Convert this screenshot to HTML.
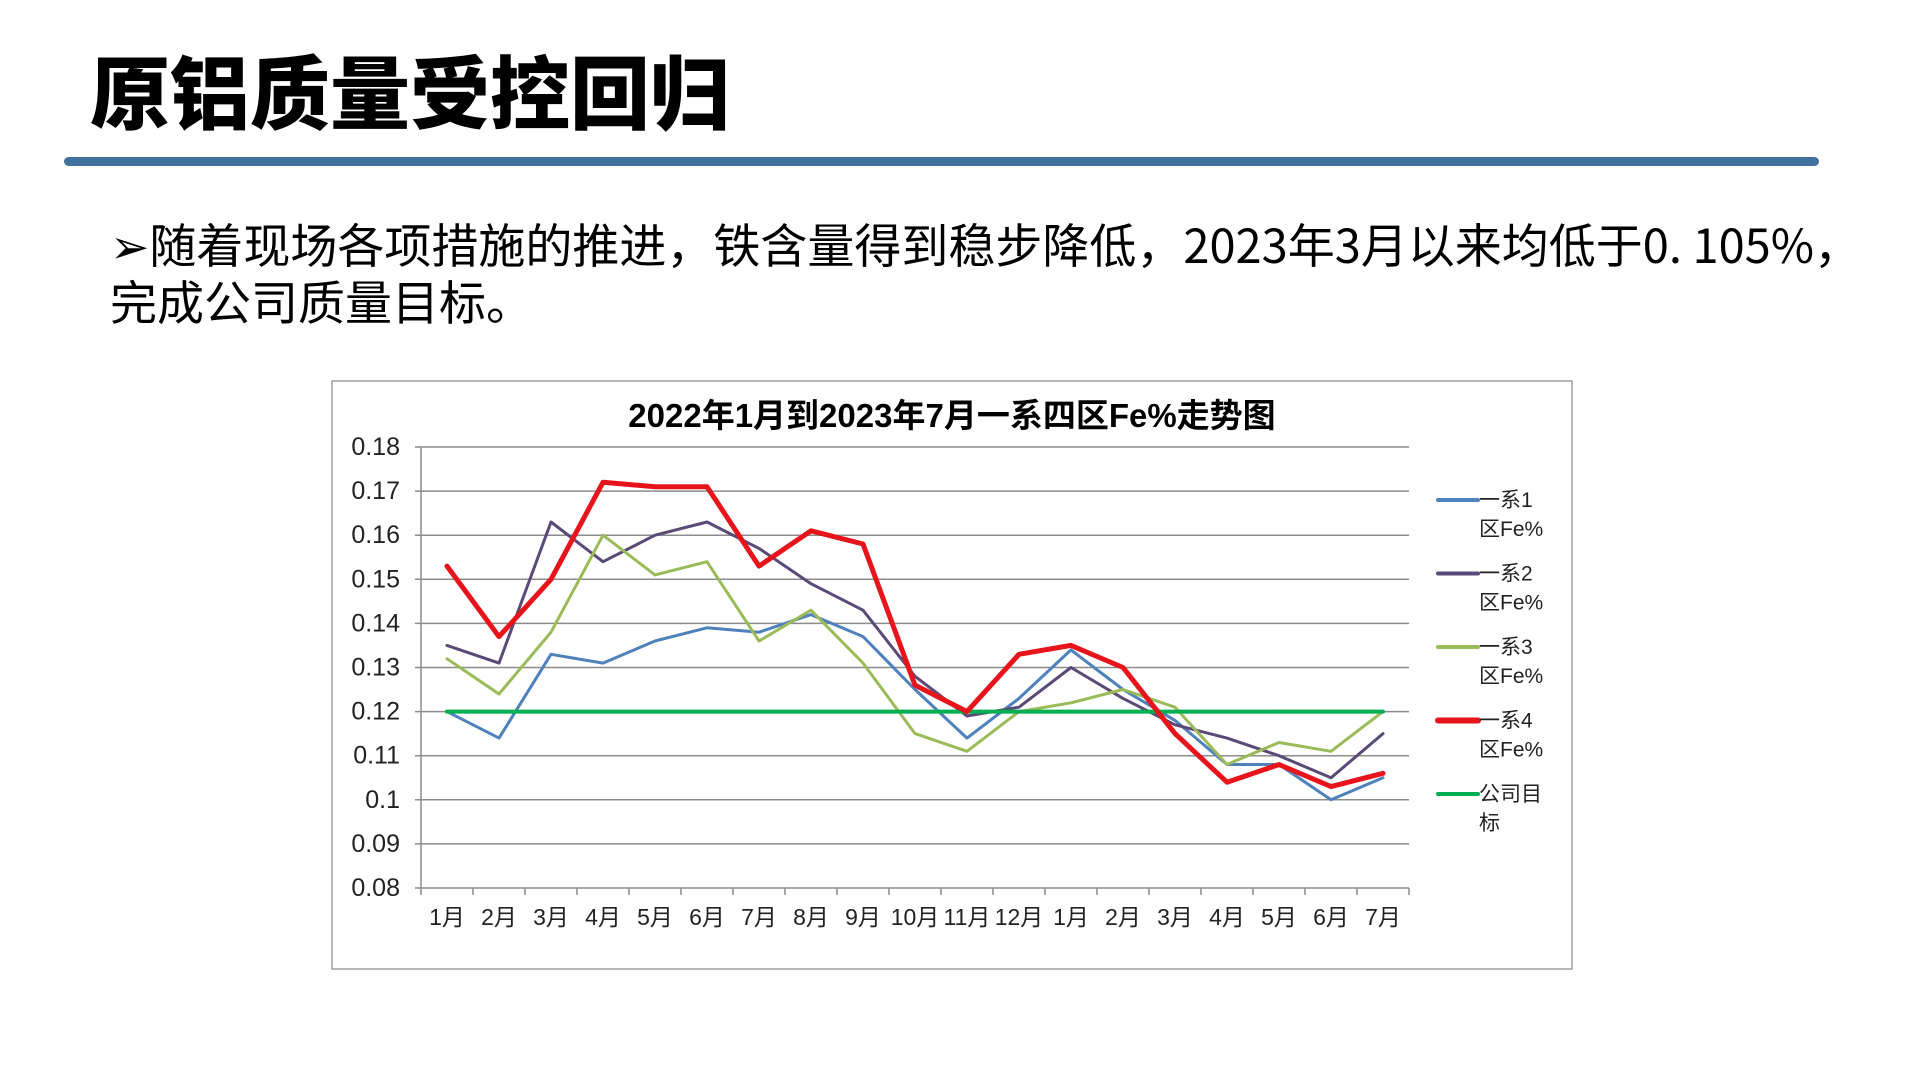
<!DOCTYPE html>
<html><head><meta charset="utf-8">
<style>
html,body{margin:0;padding:0;background:#fff;}
body{width:1920px;height:1079px;position:relative;overflow:hidden;font-family:"Liberation Sans","Noto Sans CJK SC",sans-serif;}
#title{position:absolute;left:90px;top:48px;font-size:80px;font-weight:900;color:#000;letter-spacing:0px;line-height:96px;white-space:nowrap;}
#bar{position:absolute;left:64px;top:157px;width:1755px;height:9px;background:#41719c;border-radius:5px;}
#body{position:absolute;left:110px;top:214px;font-size:47px;line-height:57px;color:#000;white-space:nowrap;font-family:"Noto Sans CJK SC",sans-serif;}
#chart{position:absolute;left:0;top:0;}
</style></head>
<body>
<div id="title">原铝质量受控回归</div>
<div id="bar"></div>
<div id="body">➢随着现场各项措施的推进，铁含量得到稳步降低，2023年3月以来均低于0. 105%，<br>完成公司质量目标。</div>
<svg id="chart" width="1920" height="1079"></svg>
<script>
const categories=["1月","2月","3月","4月","5月","6月","7月","8月","9月","10月","11月","12月","1月","2月","3月","4月","5月","6月","7月"];
const yTicks=[0.08,0.09,0.1,0.11,0.12,0.13,0.14,0.15,0.16,0.17,0.18];
const yTickLabels=["0.08","0.09","0.1","0.11","0.12","0.13","0.14","0.15","0.16","0.17","0.18"];
const s1=[0.120,0.114,0.133,0.131,0.136,0.139,0.138,0.142,0.137,0.125,0.114,0.123,0.134,0.125,0.118,0.108,0.108,0.100,0.105];
const s2=[0.135,0.131,0.163,0.154,0.160,0.163,0.157,0.149,0.143,0.128,0.119,0.121,0.130,0.123,0.117,0.114,0.110,0.105,0.115];
const s3=[0.132,0.124,0.138,0.160,0.151,0.154,0.136,0.143,0.131,0.115,0.111,0.120,0.122,0.125,0.121,0.108,0.113,0.111,0.120];
const s4=[0.153,0.137,0.150,0.172,0.171,0.171,0.153,0.161,0.158,0.126,0.120,0.133,0.135,0.130,0.115,0.104,0.108,0.103,0.106];
const target=[0.12,0.12,0.12,0.12,0.12,0.12,0.12,0.12,0.12,0.12,0.12,0.12,0.12,0.12,0.12,0.12,0.12,0.12,0.12];
const seriesNames=["一系1|区Fe%","一系2|区Fe%","一系3|区Fe%","一系4|区Fe%","公司目|标"];

const NS="http://www.w3.org/2000/svg";
const svg=document.getElementById('chart');
const X0=421,X1=1409,Y0=888,Y1=447,YMIN=0.08,YMAX=0.18;
const band=(X1-X0)/categories.length;
function xs(i){return X0+band*(i+0.5);}
function ys(v){return Y0-(v-YMIN)/(YMAX-YMIN)*(Y0-Y1);}
function mk(tag,attrs){const e=document.createElementNS(NS,tag);for(const k in attrs)e.setAttribute(k,attrs[k]);svg.appendChild(e);return e;}

const frame=mk('rect',{x:332,y:381,width:1240,height:588,fill:'#fff',stroke:'#a0a0a0','stroke-width':1.5});


const ct=mk('text',{x:952,y:427,'text-anchor':'middle','font-size':33,'font-weight':'bold',fill:'#000','font-family':'"Liberation Sans","Noto Sans CJK SC",sans-serif'});
ct.textContent="2022年1月到2023年7月一系四区Fe%走势图";



yTicks.forEach((v,i)=>{
  const g=mk('line',{x1:X0-6,x2:X1,y1:ys(v),y2:ys(v),stroke:'#8c8c8c','stroke-width':1.5});
  
  
  const t=mk('text',{x:X0-21,y:ys(v)+8,'text-anchor':'end','font-size':25,fill:'#222'});
  t.textContent=yTickLabels[i];
  
  
});
const ya=mk('line',{x1:X0,x2:X0,y1:Y1,y2:Y0,stroke:'#8c8c8c','stroke-width':1.5});


for(let i=0;i<=categories.length;i++){
  const tk=mk('line',{x1:X0+band*i,x2:X0+band*i,y1:Y0,y2:Y0+7,stroke:'#8c8c8c','stroke-width':1.5});
  
  
}
categories.forEach((c,i)=>{
  const t=mk('text',{x:xs(i),y:925,'text-anchor':'middle','font-size':23,fill:'#222','font-family':'"Liberation Sans","Noto Sans CJK SC",sans-serif'});
  t.textContent=c;
  
  
});

const all=[[s1,'#4f81bd',3],[s2,'#5a4a78',3],[s3,'#9bbb59',3],[target,'#00b050',4],[s4,'#e8141b',5]];
const names=['series-1','series-2','series-3','target-line','series-4'];
all.forEach((s,k)=>{
  const d=s[0].map((v,i)=>(i?'L':'M')+xs(i).toFixed(1)+','+ys(v).toFixed(1)).join(' ');
  const p=mk('path',{d:d,fill:'none',stroke:s[1],'stroke-width':s[2],'stroke-linejoin':'round','stroke-linecap':'round'});
  
  
});

const legColors=['#4f81bd','#5a4a78','#9bbb59','#e8141b','#00b050'];
const legW=[4,4,4,6,4];
seriesNames.forEach((n,i)=>{
  const y=500+i*73.5;
  const l=mk('line',{x1:1438,x2:1478,y1:y,y2:y,stroke:legColors[i],'stroke-width':legW[i],'stroke-linecap':'round'});
  
  
  const parts=n.split('|');
  const t=mk('text',{x:1479,y:y+7,'font-size':21,fill:'#222','font-family':'"Liberation Sans","Noto Sans CJK SC",sans-serif'});
  t.textContent=parts[0];
  
  
  const t2=mk('text',{x:1479,y:y+36,'font-size':21,fill:'#222','font-family':'"Liberation Sans","Noto Sans CJK SC",sans-serif'});
  t2.textContent=parts[1];
  
  
});
</script>
</body></html>
